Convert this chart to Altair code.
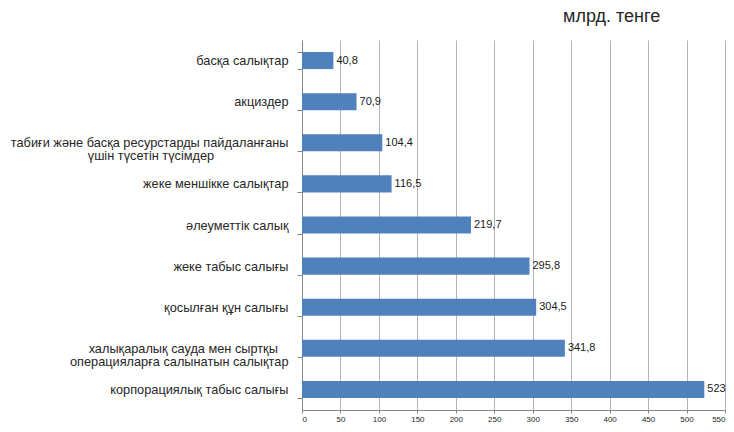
import altair as alt
import pandas as pd

NB = "\u00a0"
ZW = "\u200b"

categories = [
    "басқа салықтар",
    "акциздер",
    "табиғи және басқа ресурстарды пайдаланғаны\nүшін түсетін түсімдер",
    "жеке меншікке салықтар",
    "әлеуметтік салық",
    "жеке табыс салығы",
    "қосылған құн салығы",
    "халықаралық сауда мен сыртқы\nоперацияларға салынатын салықтар",
    "корпорациялық табыс салығы",
]
values = [40.8, 70.9, 104.4, 116.5, 219.7, 295.8, 304.5, 341.8, 523.1]
x_ticks = list(range(0, 551, 50))

# visual centering of two-line labels (padding with non-breaking spaces)
pad = {2: (0, 21), 7: (3, 0)}
disp = []
for i, c in enumerate(categories):
    if "\n" in c:
        a, b = c.split("\n")
        pa, pb = pad.get(i, (0, 0))
        a = a + (NB * pa + ZW if pa else "")
        b = b + (NB * pb + ZW if pb else "")
        disp.append(a + "\n" + b)
    else:
        disp.append(c)

df = pd.DataFrame({"cat": disp, "value": values})
df["label"] = [f"{v:.1f}".replace(".", ",") for v in values]

FONT = "Liberation Sans"

x = alt.X(
    "value:Q",
    scale=alt.Scale(domain=[0, 550], nice=False, zero=True),
    axis=alt.Axis(
        values=x_ticks,
        title=None,
        grid=True,
        gridColor="#b3b3b3",
        gridWidth=1,
        domainColor="#868686",
        tickColor="#868686",
        tickSize=3,
        labelPadding=2,
        labelFontSize=8,
        labelFont=FONT,
        labelColor="#262626",
        labelOverlap=False,
    ),
)
y = alt.Y(
    "cat:N",
    sort=None,
    scale=alt.Scale(paddingInner=0.585, paddingOuter=0.2925),
    axis=alt.Axis(
        title=None,
        tickBand="extent",
        domainColor="#868686",
        tickColor="#868686",
        tickSize=5,
        labelPadding=9,
        labelFontSize=12.75,
        labelFont=FONT,
        labelColor="#262626",
        labelLimit=400,
        labelLineHeight=13,
        labelExpr="split(datum.label, '\\n')",
    ),
)

base = alt.Chart(df).encode(x=x, y=y)
bars = base.mark_bar(color="#4f81bd")
texts = base.mark_text(
    align="left", baseline="middle", dx=3, fontSize=11, font=FONT, color="#1a1a1a"
).encode(text="label:N")

chart = (
    alt.layer(bars, texts)
    .properties(
        width=423,
        height=370,
        title=alt.TitleParams(
            "млрд. тенге",
            anchor="start",
            frame="group",
            dx=261,
            offset=8,
            fontSize=18,
            fontWeight="normal",
            font=FONT,
            color="#262626",
        ),
        autosize=alt.AutoSizeParams(type="none"),
        padding={"left": 294, "top": 32, "right": 1, "bottom": 14},
    )
    .configure_view(stroke=None)
)

chart.save("out.html", embed_options={"renderer": "svg", "actions": False})
